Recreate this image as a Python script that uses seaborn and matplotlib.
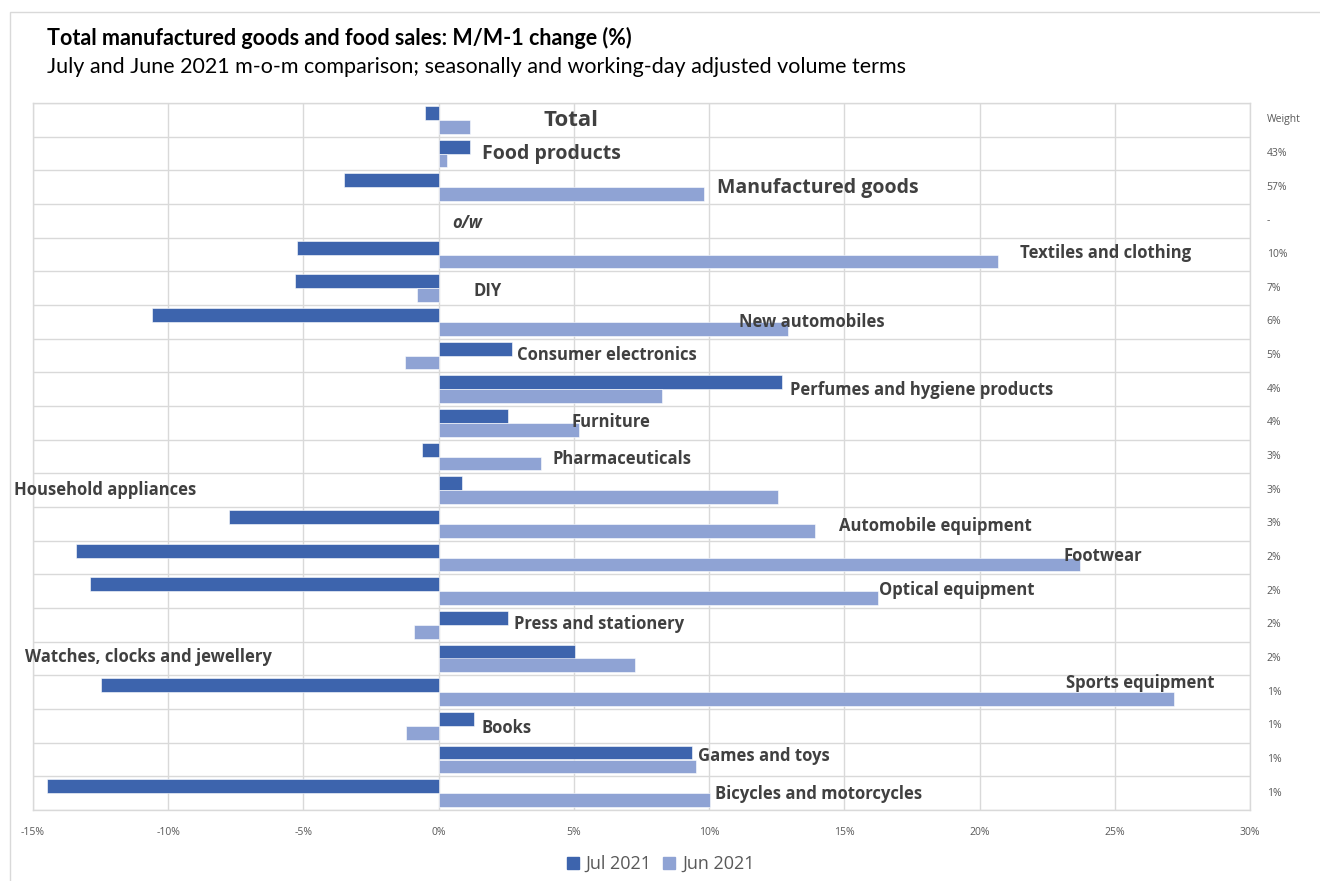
"""
Manufactured goods and food sales, M/M-1 change (%), July vs June 2021.
Horizontal grouped bars with in-plot category labels and a weight column.
"""

import matplotlib
matplotlib.use("Agg")

import matplotlib.pyplot as plt
import matplotlib.transforms as mtransforms
import numpy as np
import pandas as pd
import seaborn as sns
from matplotlib.lines import Line2D
from matplotlib.patches import Rectangle

# --------------------------------------------------------------------------- #
# Data
# --------------------------------------------------------------------------- #
CATEGORIES = [
    "Total", "Food products", "Manufactured goods", "o/w",
    "Textiles and clothing", "DIY", "New automobiles", "Consumer electronics",
    "Perfumes and hygiene products", "Furniture", "Pharmaceuticals",
    "Household appliances", "Automobile equipment", "Footwear",
    "Optical equipment", "Press and stationery", "Watches, clocks and jewellery",
    "Sports equipment", "Books", "Games and toys", "Bicycles and motorcycles",
]
JUL_2021 = [-0.5, 1.15, -3.5, np.nan, -5.25, -5.3, -10.6, 2.7, 12.7, 2.55,
            -0.6, 0.85, -7.75, -13.4, -12.9, 2.55, 5.05, -12.5, 1.3, 9.35,
            -14.5]
JUN_2021 = [1.15, 0.3, 9.8, np.nan, 20.7, -0.8, 12.9, -1.25, 8.25, 5.2,
            3.8, 12.55, 13.9, 23.7, 16.25, -0.9, 7.25, 27.2, -1.2, 9.5,
            10.05]
WEIGHTS = ["Weight", "43%", "57%", "-", "10%", "7%", "6%", "5%", "4%", "4%",
           "3%", "3%", "3%", "2%", "2%", "2%", "2%", "1%", "1%", "1%", "1%"]
SERIES = ["Jul 2021", "Jun 2021"]
X_TICKS = [-15, -10, -5, 0, 5, 10, 15, 20, 25, 30]

# Where each in-plot label sits (x in %, y offset in rows) and its size.
LABEL_X = [4.9, 1.6, 10.3, 0.5, 21.5, 1.3, 11.1, 2.9, 13.0, 4.9, 4.2,
           -15.7, 14.8, 23.1, 16.3, 2.8, -15.3, 23.2, 1.6, 9.6, 10.2]
LABEL_DY = [0.01, 0.01, 0.02, 0.07, -0.05, 0.07, 0.01, -0.01, 0.01, -0.01,
            0.07, -0.01, 0.07, -0.05, -0.03, -0.03, -0.03, -0.26, 0.07, -0.11,
            0.01]
LABEL_SIZE = [16, 14, 14] + [12] * 18

COLORS = {"Jul 2021": "#3d64ad", "Jun 2021": "#8fa3d4"}
GRID = "#d9d9d9"
TEXT = "#404040"
MUTED = "#595959"

sns.set_theme(style="white")
plt.rcParams["font.family"] = ["Open Sans", "DejaVu Sans"]

df = pd.DataFrame({
    "category": CATEGORIES * 2,
    "series": [SERIES[0]] * len(CATEGORIES) + [SERIES[1]] * len(CATEGORIES),
    "value": JUL_2021 + JUN_2021,
})

fig = plt.figure(figsize=(13.2, 8.81), dpi=100)
ax = fig.add_axes([33 / 1320, 1 - 810 / 881, (1250 - 33) / 1320, (810 - 103) / 881])

sns.barplot(data=df, y="category", x="value", hue="series", order=CATEGORIES,
            hue_order=SERIES, palette=COLORS, orient="h", width=0.82,
            saturation=1, edgecolor="white", linewidth=0.4, errorbar=None,
            legend=False, ax=ax, zorder=3)

ax.set_xlim(X_TICKS[0], X_TICKS[-1])
ax.set_ylim(len(CATEGORIES) - 0.5, -0.5)
ax.set_xticks(X_TICKS)
ax.set_xticklabels([f"{t}%" for t in X_TICKS], fontsize=7.5, color=MUTED)
ax.tick_params(axis="x", length=0, pad=12)
ax.set_yticks([])
ax.set_yticks(np.arange(len(CATEGORIES) + 1) - 0.5, minor=True)
ax.tick_params(axis="y", which="both", length=0)
ax.grid(axis="x", color=GRID, linewidth=1, zorder=0)
ax.grid(axis="y", which="minor", color=GRID, linewidth=1, zorder=0)
ax.set_axisbelow(True)
for spine in ax.spines.values():
    spine.set_color(GRID)
    spine.set_linewidth(1)
ax.set_xlabel("")
ax.set_ylabel("")

# in-plot category labels
for i, (name, lx, dy, size) in enumerate(zip(CATEGORIES, LABEL_X, LABEL_DY, LABEL_SIZE)):
    ha = "center" if name == "Total" else "left"
    style = "italic" if name == "o/w" else "normal"
    ax.text(lx, i + dy, name, ha=ha, va="center", fontsize=size,
            fontweight="bold", fontstyle=style, color=TEXT, clip_on=False,
            zorder=5)

# weight column on the right
trans = mtransforms.blended_transform_factory(ax.transAxes, ax.transData)
for i, w in enumerate(WEIGHTS):
    ax.text(1.0138, i, w, transform=trans, ha="left", va="center",
            fontsize=7.5, color=MUTED)

# titles
fig.text(47 / 1320, 1 - 38 / 881, "Total manufactured goods and food sales: M/M-1 change (%)",
         fontsize=15.5, fontweight="bold", color="black", va="center",
         family=["Lato", "DejaVu Sans"])
fig.text(47 / 1320, 1 - 67 / 881,
         "July and June 2021 m-o-m comparison; seasonally and working-day adjusted volume terms",
         fontsize=15.5, color="black", va="center", family=["Lato", "DejaVu Sans"])

# legend
handles = [Line2D([0], [0], marker="s", linestyle="", markersize=9,
                  color=COLORS[s], label=s) for s in SERIES]
fig.legend(handles=handles, loc="center", bbox_to_anchor=(0.5, 1 - 864 / 881),
           ncol=2, frameon=False, fontsize=13, labelcolor=MUTED,
           handlelength=0.8, handletextpad=0.3, columnspacing=0.6)

# chart frame
fig.add_artist(Rectangle((10 / 1320, -0.1), 1.2, 1 - 12 / 881 + 0.1,
                         transform=fig.transFigure, fill=False,
                         edgecolor=GRID, linewidth=1))

fig.savefig("out.png", dpi=100)
